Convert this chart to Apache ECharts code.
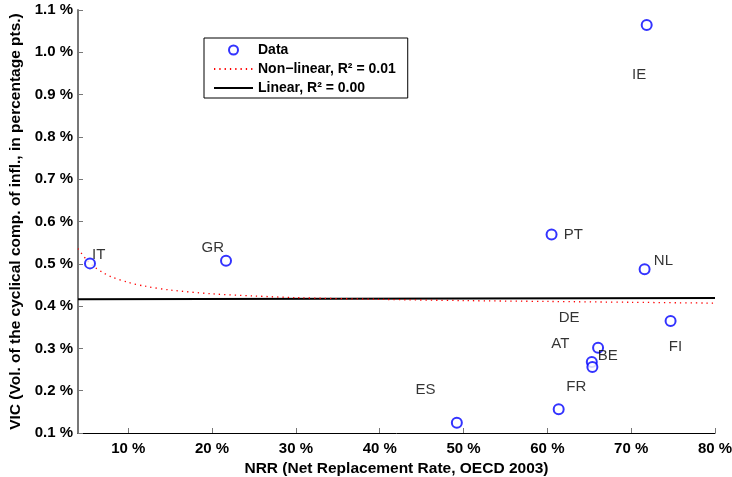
<!DOCTYPE html>
<html>
<head>
<meta charset="utf-8">
<script src="https://cdn.jsdelivr.net/npm/echarts@6/dist/echarts.min.js"></script>
<style>
html,body{margin:0;padding:0;background:#fff;}
#c{width:732px;height:477px;}
</style>
</head>
<body>
<div id="c"></div>
<script>
// Data points (NRR %, VIC %)
var pointX = [5.43, 21.66, 49.2, 61.35, 60.5, 65.3, 65.37, 66.05, 71.6, 71.85, 74.7];
var pointY = [0.501, 0.507, 0.124, 0.156, 0.569, 0.268, 0.256, 0.3015, 0.487, 1.0646, 0.365];

// Country text labels (placed in data coordinates as in the original)
var labelNames = ['IT', 'GR', 'ES', 'FR', 'PT', 'AT', 'DE', 'BE', 'NL', 'IE', 'FI'];
var labelX = [6.48, 20.09, 45.45, 63.46, 63.1, 61.55, 62.6, 67.2, 73.85, 70.95, 75.28];
var labelY = [0.5205, 0.5387, 0.2016, 0.2094, 0.569, 0.310, 0.372, 0.2826, 0.507, 0.9457, 0.304];

// Non-linear fit curve
var nlX = [4, 5, 6, 7, 8, 10, 12, 15, 20, 25, 30, 40, 50, 60, 70, 80];
var nlY = [0.536, 0.510, 0.492, 0.479, 0.469, 0.456, 0.447, 0.438, 0.429, 0.424, 0.420, 0.416, 0.413, 0.411, 0.409, 0.407];

// Linear fit line
var linX = [4, 80];
var linY = [0.416, 0.419];

// Tick labels
var xTicks = [10, 20, 30, 40, 50, 60, 70, 80];
var yTicks = [0.1, 0.2, 0.3, 0.4, 0.5, 0.6, 0.7, 0.8, 0.9, 1.0, 1.1];

var seriesNames = ['Data', 'Non\u2212linear, R\u00b2 = 0.01', 'Linear, R\u00b2 = 0.00'];

function zip(a, b) { return a.map(function (v, i) { return [v, b[i]]; }); }

var FONT = 'Liberation Sans, Arial, sans-serif';
var hidden = { color: 'rgba(0,0,0,0)', borderWidth: 0, borderColor: 'rgba(0,0,0,0)' };
var chart = echarts.init(document.getElementById('c'));
chart.setOption({
  animation: false,
  backgroundColor: '#fff',
  grid: { left: 78, right: 17, top: 10, bottom: 44, containLabel: false, outerBoundsMode: 'none' },
  legend: {
    orient: 'vertical',
    left: 204, top: 38,
    padding: [4, 12, 2, 9],
    itemWidth: 39, itemHeight: 9, itemGap: 3,
    borderColor: '#000', borderWidth: 1,
    backgroundColor: '#fff',
    textStyle: { fontFamily: FONT, fontWeight: 'bold', fontSize: 14, color: '#000', lineHeight: 16 },
    data: [
      { name: seriesNames[0] },
      { name: seriesNames[1], itemStyle: hidden },
      { name: seriesNames[2], itemStyle: hidden }
    ]
  },
  xAxis: {
    type: 'value', min: 4, max: 80,
    name: 'NRR (Net Replacement Rate, OECD 2003)',
    nameLocation: 'middle', nameGap: 26,
    nameTextStyle: { fontFamily: FONT, fontWeight: 'bold', fontSize: 15.5, color: '#000' },
    axisLine: { show: true, onZero: false, lineStyle: { color: '#000', width: 1 } },
    axisTick: { show: true, inside: true, length: 5, customValues: xTicks, lineStyle: { color: '#777' } },
    axisLabel: { customValues: xTicks, margin: 8, fontFamily: FONT, fontWeight: 'bold', fontSize: 15, color: '#000',
      formatter: function (v) { return v + ' %'; } },
    splitLine: { show: false }
  },
  yAxis: {
    type: 'value', min: 0.1, max: 1.1,
    name: 'VIC (Vol. of the cyclical comp. of infl., in percentage pts.)',
    nameLocation: 'middle', nameGap: 54,
    nameTextStyle: { fontFamily: FONT, fontWeight: 'bold', fontSize: 15.5, color: '#000' },
    axisLine: { show: true, onZero: false, lineStyle: { color: '#777', width: 2 } },
    axisTick: { show: true, inside: true, length: 5, customValues: yTicks, lineStyle: { color: '#777' } },
    axisLabel: { customValues: yTicks, margin: 5, fontFamily: FONT, fontWeight: 'bold', fontSize: 15, color: '#000',
      formatter: function (v) { return v.toFixed(1) + ' %'; } },
    splitLine: { show: false }
  },
  series: [
    {
      name: seriesNames[2], type: 'line', data: zip(linX, linY),
      symbol: 'none', lineStyle: { color: '#000', width: 2 }, itemStyle: { color: '#000' }, z: 2
    },
    {
      name: seriesNames[1], type: 'line', data: zip(nlX, nlY), smooth: 0.3,
      symbol: 'none', lineStyle: { color: '#ff0000', width: 1.3, type: [1.3, 4] }, itemStyle: { color: '#ff0000' }, z: 3
    },
    {
      name: seriesNames[0], type: 'scatter', data: zip(pointX, pointY),
      symbol: 'emptyCircle', symbolSize: 10,
      itemStyle: { color: '#0000ff', borderWidth: 1.2 }, z: 4
    },
    {
      name: 'labels', type: 'scatter', symbolSize: 0, silent: true,
      data: labelNames.map(function (n, i) { return { name: n, value: [labelX[i], labelY[i]] }; }),
      label: { show: true, position: 'inside', formatter: '{b}', fontFamily: FONT, fontSize: 15, color: '#000' },
      z: 5
    }
  ]
});
</script>
</body>
</html>
